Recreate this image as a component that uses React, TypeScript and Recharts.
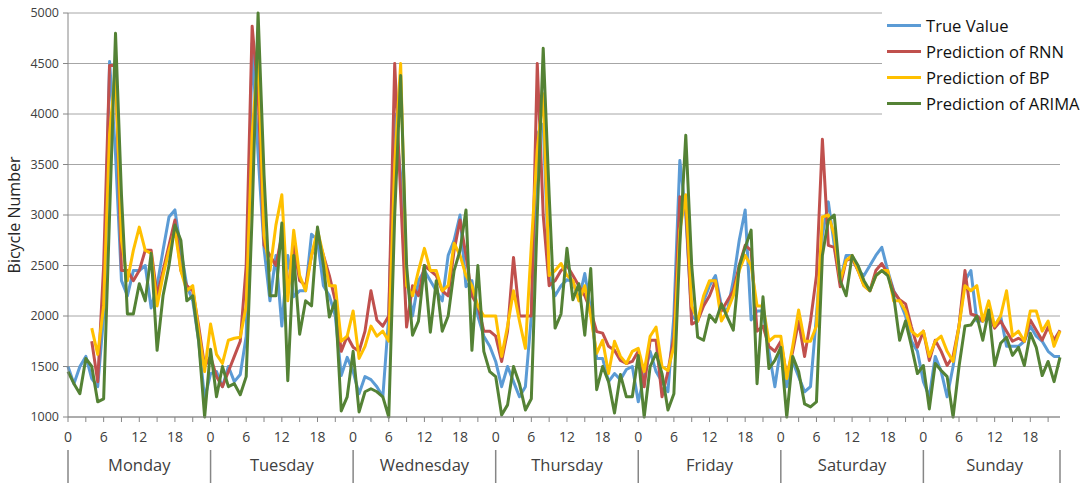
import React from "react";
import { LineChart, Line, XAxis, YAxis, CartesianGrid } from "recharts";

// hourly bicycle counts, Monday 0h .. Sunday 23h (24 values per row)
const days = ["Monday", "Tuesday", "Wednesday", "Thursday", "Friday", "Saturday", "Sunday"];
const yTicks = [1000, 1500, 2000, 2500, 3000, 3500, 4000, 4500, 5000];

const trueValue = [
  1500, 1330, 1500, 1600, 1380, 1300, 2000, 4520, 3600, 2350, 2200, 2450, 2450, 2500, 2080, 2300, 2650, 2980, 3050, 2650, 2300, 2150, 1750, 1180,
  1430, 1450, 1300, 1500, 1350, 1420, 1800, 4700, 3600, 2670, 2150, 2600, 1900, 2600, 2190, 2250, 2250, 2810, 2750, 2300, 2200, 2000, 1410, 1590,
  1450, 1230, 1400, 1370, 1300, 1200, 2000, 4000, 3400, 2400, 2000, 2350, 2450, 2350, 2250, 2150, 2600, 2750, 3000, 2290, 2350, 2000, 1800, 1700,
  1550, 1300, 1500, 1350, 1200, 1300, 2000, 3800, 3900, 2400, 2200, 2300, 2360, 2340, 2160, 2420, 2060, 1580, 1580, 1350, 1430, 1370, 1470, 1500,
  1150, 1400, 1650, 1450, 1350, 1250, 2000, 3540, 3000, 2000, 1950, 2150, 2300, 2400, 2100, 2050, 2350, 2750, 3050, 1960, 2050, 2050, 1650, 1300,
  1700, 1300, 1550, 1400, 1250, 1300, 2000, 2800, 3130, 2700, 2350, 2600, 2600, 2450, 2400, 2500, 2600, 2680, 2450, 2250, 2150, 2000, 1750, 1650,
  1350, 1200, 1600, 1450, 1200, 1500, 1900, 2350, 2450, 1950, 1950, 2050, 1900, 2000, 1700, 1700, 1700, 1750, 1900, 1800, 1750, 1650, 1600, 1600,
];

const rnn = [
  null, null, null, null, 1750, 1350, 2500, 4480, 4480, 2450, 2450, 2350, 2450, 2650, 2650, 2200, 2450, 2700, 2950, 2450, 2300, 2250, 1900, 1500,
  1600, 1400, 1300, 1450, 1600, 1750, 2500, 4870, 4200, 2700, 2600, 2500, 2800, 2250, 2700, 2350, 2300, 2600, 2800, 2600, 2400, 2150, 1650, 1800,
  1690, 1650, 1850, 2250, 1960, 1900, 2000, 4500, 3200, 1890, 2300, 2200, 2500, 2450, 2400, 2250, 2200, 2650, 2950, 2600, 2200, 2100, 1850, 1850,
  1800, 1550, 1850, 2580, 2000, 2000, 2000, 4500, 3000, 2300, 2350, 2450, 2500, 2400, 2300, 2200, 2050, 1845, 1830, 1700, 1660, 1560, 1530, 1550,
  1650, 1300, 1760, 1760, 1200, 1450, 1800, 3180, 3100, 1920, 1950, 2100, 2200, 2350, 2050, 2150, 2250, 2500, 2700, 2650, 1850, 1900, 1700, 1650,
  1750, 1400, 1650, 1950, 1600, 1950, 2400, 3750, 2700, 2680, 2290, 2550, 2570, 2450, 2300, 2250, 2450, 2520, 2420, 2240, 2160, 2120, 1890, 1690,
  1850, 1560, 1760, 1650, 1510, 1600, 1900, 2450, 2020, 2000, 1950, 2020, 1880, 1950, 1850, 1750, 1780, 1750, 1960, 1860, 1760, 1890, 1760, 1860,
];

const bp = [
  null, null, null, null, 1880, 1620, 2100, 3800, 4450, 2750, 2350, 2650, 2880, 2650, 2620, 2100, 2400, 2650, 2850, 2450, 2250, 2300, 1850, 1450,
  1920, 1620, 1530, 1760, 1780, 1790, 2100, 3800, 4600, 2800, 2450, 2900, 3200, 2150, 2850, 2400, 2250, 2600, 2850, 2600, 2300, 2300, 1750, 1800,
  2050, 1580, 1700, 1900, 1800, 1850, 1750, 3500, 4500, 2300, 2200, 2450, 2670, 2450, 2450, 2250, 2300, 2720, 2600, 2400, 2300, 2100, 2000, 2000,
  2000, 1600, 1900, 2250, 1950, 1680, 2700, 3650, 4200, 2400, 2450, 2520, 2400, 2350, 2150, 2300, 2000, 1630, 1760, 1430, 1750, 1600, 1530, 1650,
  1680, 1450, 1800, 1890, 1500, 1460, 1700, 2850, 3200, 2100, 1950, 2200, 2350, 2350, 1950, 2050, 2200, 2450, 2600, 2500, 2100, 2100, 1750, 1800,
  1800, 1380, 1700, 2060, 1750, 1750, 1900, 2980, 3000, 2800, 2350, 2550, 2600, 2450, 2300, 2250, 2400, 2450, 2450, 2150, 2150, 2050, 1850, 1800,
  1850, 1600, 1750, 1800, 1650, 1550, 1900, 2300, 2250, 2300, 1950, 2150, 1900, 2000, 2250, 1800, 1850, 1750, 2050, 2050, 1850, 1950, 1700, 1850,
];

const arima = [
  1450, 1330, 1230, 1580, 1500, 1150, 1180, 3000, 4800, 3200, 2020, 2020, 2320, 2150, 2620, 1660, 2200, 2500, 2900, 2750, 2150, 2200, 1750, 1000,
  1670, 1200, 1500, 1300, 1330, 1220, 1400, 3000, 5000, 3400, 2200, 2200, 2920, 1360, 2600, 1820, 2150, 2100, 2880, 2500, 1990, 2150, 1060, 1200,
  1650, 1050, 1250, 1280, 1250, 1200, 1000, 3000, 4380, 2500, 1810, 1950, 2500, 1840, 2350, 1850, 2000, 2450, 2650, 3050, 1660, 2500, 1650, 1450,
  1400, 1020, 1120, 1500, 1330, 1070, 1180, 3000, 4650, 3200, 1880, 2020, 2670, 2160, 2320, 1810, 2470, 1270, 1500, 1350, 1040, 1420, 1200, 1200,
  1610, 1000, 1500, 1630, 1430, 1070, 1230, 2700, 3790, 2500, 1790, 1760, 2010, 1940, 2120, 1990, 1860, 2490, 2680, 2850, 1330, 2190, 1480, 1560,
  1690, 1000, 1600, 1450, 1130, 1100, 1150, 2600, 2950, 3000, 2350, 2200, 2600, 2500, 2350, 2250, 2400, 2450, 2400, 2200, 1760, 1950, 1700, 1430,
  1510, 1080, 1530, 1460, 1400, 1000, 1500, 1900, 1910, 2000, 1760, 2060, 1510, 1730, 1790, 1610, 1690, 1510, 1830, 1690, 1410, 1550, 1350, 1590,
];

const series = [
  { key: "trueValue", name: "True Value", color: "#5B9BD5" },
  { key: "rnn", name: "Prediction of RNN", color: "#C0504D" },
  { key: "bp", name: "Prediction of BP", color: "#FFC000" },
  { key: "arima", name: "Prediction of ARIMA", color: "#548235" },
];

const data = trueValue.map((v, i) => ({
  idx: i,
  trueValue: v,
  rnn: rnn[i],
  bp: bp[i],
  arima: arima[i],
}));

const LAST = data.length - 1;
const AXIS = "#868686";
const FONT = "'Open Sans', 'Noto Sans', sans-serif";

function HourTick(props: any) {
  const { x, y, payload } = props;
  const i = Number(payload.value);
  const h = i % 24;
  const day = Math.floor(i / 24);
  return (
    <g>
      {h % 3 === 0 && <line x1={x} x2={x} y1={y} y2={y + 5} stroke={AXIS} />}
      {h % 6 === 0 && (
        <text x={x} y={y + 25} textAnchor="middle" fontSize={14} fill="#404040">
          {h}
        </text>
      )}
      {(h === 0 || i === LAST) && (
        <line x1={x} x2={x} y1={y + 33} y2={y + 66} stroke={AXIS} strokeWidth={1.5} />
      )}
      {h === 12 && (
        <text x={x} y={y + 54} textAnchor="middle" fontSize={16.5} fill="#404040">
          {days[day]}
        </text>
      )}
    </g>
  );
}

function YTitle(props: any) {
  const { viewBox } = props;
  const cx = 14;
  const cy = viewBox.y + viewBox.height / 2;
  return (
    <text
      x={cx}
      y={cy}
      transform={`rotate(-90 ${cx} ${cy})`}
      textAnchor="middle"
      dominantBaseline="central"
      fontSize={16}
      fill="#262626"
    >
      Bicycle Number
    </text>
  );
}

export default function App() {
  return (
    <div style={{ position: "absolute", left: 0, top: 0, width: 1084, height: 495, fontFamily: FONT, background: "#fff" }}>
      <LineChart width={1084} height={495} data={data} margin={{ top: 13, right: 24, bottom: 0, left: 0 }} style={{ fontFamily: FONT }}>
        <CartesianGrid vertical={false} stroke="#a6a6a6" />
        <XAxis
          dataKey="idx"
          interval={0}
          height={78}
          tickLine={false}
          tickSize={0}
          tickMargin={0}
          axisLine={{ stroke: AXIS }}
          tick={<HourTick />}
        />
        <YAxis
          width={68}
          domain={[1000, 5000]}
          ticks={yTicks}
          tickSize={5}
          tickMargin={4}
          tickLine={{ stroke: AXIS }}
          axisLine={{ stroke: AXIS }}
          tick={{ fontSize: 12.5, fill: "#404040" }}
          label={<YTitle />}
        />
        {series.map((s) => (
          <Line
            key={s.key}
            type="linear"
            dataKey={s.key}
            name={s.name}
            stroke={s.color}
            strokeWidth={3}
            strokeLinejoin="round"
            dot={false}
            activeDot={false}
            isAnimationActive={false}
          />
        ))}
      </LineChart>
      <div style={{ position: "absolute", left: 882, top: 0, width: 202, paddingTop: 12, paddingBottom: 6, background: "#fff" }}>
        {series.map((s) => (
          <div key={s.key} style={{ display: "flex", alignItems: "center", height: 26 }}>
            <span style={{ display: "inline-block", width: 34, height: 3, background: s.color, marginLeft: 5, marginRight: 5 }} />
            <span style={{ fontSize: 16.6, color: "#111", whiteSpace: "nowrap" }}>{s.name}</span>
          </div>
        ))}
      </div>
    </div>
  );
}
